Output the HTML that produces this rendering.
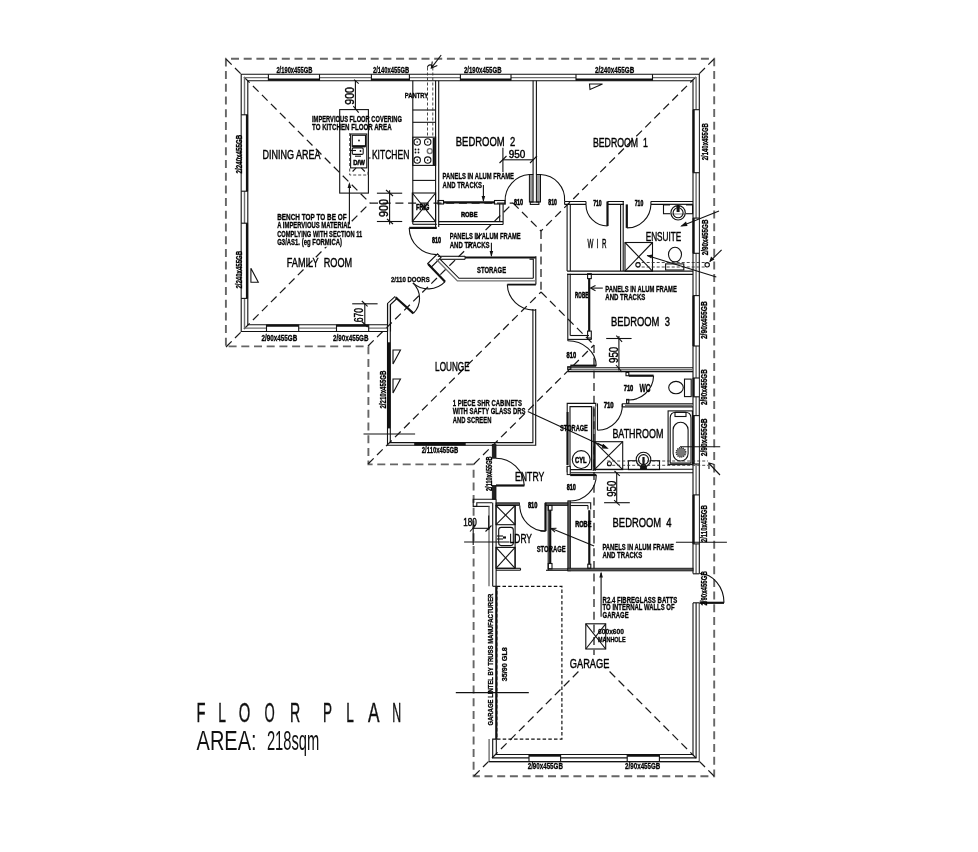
<!DOCTYPE html>
<html><head><meta charset="utf-8"><title>Floor Plan</title><style>
html,body{margin:0;padding:0;background:#fff;width:978px;height:852px;overflow:hidden}
svg{display:block;will-change:transform}
.w{stroke:#111;stroke-width:1.1;fill:none}
.wf{stroke:#111;stroke-width:1.1;fill:#fff}
.g{stroke:#707070;stroke-width:1.4;fill:none}
.t{stroke:#111;stroke-width:2.2;fill:none}
.t2{stroke:#111;stroke-width:1.8;fill:none}
.tt{stroke:#111;stroke-width:3;fill:none}
.e{stroke:#666;stroke-width:1.9;fill:none;stroke-dasharray:8 4.7}
.h{stroke:#1a1a1a;stroke-width:1.25;fill:none;stroke-dasharray:8 4.7}
.dd{stroke:#333;stroke-width:0.9;fill:none;stroke-dasharray:3 2}
.lab{font-family:"Liberation Sans",sans-serif;fill:#000;stroke:#000;stroke-width:0.4}
.big{font-family:"Liberation Sans",sans-serif;fill:#111}
.big2{font-family:"Liberation Sans",sans-serif;fill:#111;stroke:#111;stroke-width:0.45}
.nb2{font-family:"Liberation Sans",sans-serif;fill:#000;font-weight:bold;stroke:#000;stroke-width:0.55}
.nb{font-family:"Liberation Sans",sans-serif;fill:#000;font-weight:bold;stroke:#000;stroke-width:0.3}
.fill{fill:#111;stroke:none}
.shw{fill:#777;stroke:#222;stroke-width:1.2;stroke-dasharray:1 1}
.dd2{stroke:#111;stroke-width:1.2;fill:none;stroke-dasharray:3.5 2.2}
.w2{stroke:#333;stroke-width:1;fill:none;stroke-dasharray:8 4.6}
</style></head>
<body><svg width="978" height="852" viewBox="0 0 978 852">
<polyline points="225.9,345.8 225.9,58.8 714.2,58.8 714.2,776.3 473.6,776.3 473.6,464.4 368.4,464.4 368.4,346.4 225.9,346.4" class="e"/>
<line x1="226" y1="59" x2="370" y2="203" class="h"/>
<line x1="226" y1="347" x2="370" y2="203" class="h"/>
<line x1="370" y1="203" x2="513" y2="203" class="h"/>
<line x1="368" y1="346" x2="513" y2="203" class="h"/>
<line x1="513" y1="203" x2="541" y2="231" class="h"/>
<line x1="714" y1="59" x2="541" y2="231" class="h"/>
<line x1="541" y1="231" x2="541" y2="292" class="h"/>
<line x1="368" y1="464" x2="541" y2="292" class="h"/>
<line x1="541" y1="292" x2="594" y2="345" class="h"/>
<line x1="474" y1="464" x2="594" y2="345" class="h"/>
<line x1="594" y1="345" x2="594" y2="656" class="h"/>
<line x1="474" y1="776" x2="594" y2="656" class="h"/>
<line x1="714" y1="776" x2="594" y2="656" class="h"/>
<polyline points="388,331.5 241.2,331.5 241.2,74.3 699.3,74.3 699.3,573.8" class="w"/>
<polyline points="388,328.1 244.5,328.1 244.5,77.6 696.1,77.6 696.1,573.8" class="g"/>
<polyline points="388,324.7 247.8,324.7 247.8,80.7 693,80.7 693,573.8" class="w"/>
<polyline points="699.3,602.8 699.3,761.6 489.1,761.6 489.1,739.1" class="g"/>
<line x1="699.3" y1="761.6" x2="489.1" y2="761.6" class="w"/>
<polyline points="696.1,602.8 696.1,757.9 492.7,757.9 492.7,739.1 496.3,739.1" class="w"/>
<polyline points="693,602.8 693,754.5 496.3,754.5 496.3,739.1" class="w"/>
<rect x="268.4" y="75.0" width="51.10000000000002" height="5.000000000000005" fill="#fff"/>
<line x1="268.4" y1="79.6" x2="319.5" y2="79.6" class="t"/>
<line x1="268.4" y1="74.3" x2="268.4" y2="80.7" class="w"/>
<line x1="319.5" y1="74.3" x2="319.5" y2="80.7" class="w"/>
<rect x="371.4" y="75.0" width="38.0" height="5.000000000000005" fill="#fff"/>
<line x1="371.4" y1="79.6" x2="409.4" y2="79.6" class="t"/>
<line x1="371.4" y1="74.3" x2="371.4" y2="80.7" class="w"/>
<line x1="409.4" y1="74.3" x2="409.4" y2="80.7" class="w"/>
<rect x="460.4" y="75.0" width="50.60000000000002" height="5.000000000000005" fill="#fff"/>
<line x1="460.4" y1="79.6" x2="511" y2="79.6" class="t"/>
<line x1="460.4" y1="74.3" x2="460.4" y2="80.7" class="w"/>
<line x1="511" y1="74.3" x2="511" y2="80.7" class="w"/>
<rect x="576" y="75.0" width="76.5" height="5.000000000000005" fill="#fff"/>
<line x1="576" y1="79.6" x2="652.5" y2="79.6" class="t"/>
<line x1="576" y1="74.3" x2="576" y2="80.7" class="w"/>
<line x1="652.5" y1="74.3" x2="652.5" y2="80.7" class="w"/>
<rect x="266.5" y="325.4" width="32.19999999999999" height="5.400000000000011" fill="#fff"/>
<line x1="266.5" y1="325.6" x2="298.7" y2="325.6" class="t"/>
<line x1="266.5" y1="331.5" x2="266.5" y2="324.7" class="w"/>
<line x1="298.7" y1="331.5" x2="298.7" y2="324.7" class="w"/>
<rect x="336.5" y="325.4" width="32.19999999999999" height="5.400000000000011" fill="#fff"/>
<line x1="336.5" y1="325.6" x2="368.7" y2="325.6" class="t"/>
<line x1="336.5" y1="331.5" x2="336.5" y2="324.7" class="w"/>
<line x1="368.7" y1="331.5" x2="368.7" y2="324.7" class="w"/>
<rect x="241.89999999999998" y="114.8" width="5.200000000000022" height="76.39999999999999" fill="#fff"/>
<line x1="247.0" y1="114.8" x2="247.0" y2="191.2" class="t"/>
<line x1="241.2" y1="114.8" x2="247.8" y2="114.8" class="w"/>
<line x1="241.2" y1="191.2" x2="247.8" y2="191.2" class="w"/>
<rect x="241.89999999999998" y="223.2" width="5.200000000000022" height="75.19999999999999" fill="#fff"/>
<line x1="247.0" y1="223.2" x2="247.0" y2="298.4" class="t"/>
<line x1="241.2" y1="223.2" x2="247.8" y2="223.2" class="w"/>
<line x1="241.2" y1="298.4" x2="247.8" y2="298.4" class="w"/>
<rect x="693.7" y="109.7" width="4.899999999999954" height="62.999999999999986" fill="#fff"/>
<line x1="693.6" y1="109.7" x2="693.6" y2="172.7" class="t"/>
<line x1="699.3" y1="109.7" x2="693" y2="109.7" class="w"/>
<line x1="699.3" y1="172.7" x2="693" y2="172.7" class="w"/>
<rect x="693.7" y="218.1" width="4.899999999999954" height="35.20000000000002" fill="#fff"/>
<line x1="693.6" y1="218.1" x2="693.6" y2="253.3" class="t"/>
<line x1="699.3" y1="218.1" x2="693" y2="218.1" class="w"/>
<line x1="699.3" y1="253.3" x2="693" y2="253.3" class="w"/>
<rect x="693.7" y="295.6" width="4.899999999999954" height="50.39999999999998" fill="#fff"/>
<line x1="693.6" y1="295.6" x2="693.6" y2="346" class="t"/>
<line x1="699.3" y1="295.6" x2="693" y2="295.6" class="w"/>
<line x1="699.3" y1="346" x2="693" y2="346" class="w"/>
<rect x="693.7" y="378" width="4.899999999999954" height="18.80000000000001" fill="#fff"/>
<line x1="693.6" y1="378" x2="693.6" y2="396.8" class="t"/>
<line x1="699.3" y1="378" x2="693" y2="378" class="w"/>
<line x1="699.3" y1="396.8" x2="693" y2="396.8" class="w"/>
<rect x="693.7" y="415.6" width="4.899999999999954" height="48.39999999999998" fill="#fff"/>
<line x1="693.6" y1="415.6" x2="693.6" y2="464" class="t"/>
<line x1="699.3" y1="415.6" x2="693" y2="415.6" class="w"/>
<line x1="699.3" y1="464" x2="693" y2="464" class="w"/>
<rect x="693.7" y="494.9" width="4.899999999999954" height="49.0" fill="#fff"/>
<line x1="693.6" y1="494.9" x2="693.6" y2="543.9" class="t"/>
<line x1="699.3" y1="494.9" x2="693" y2="494.9" class="w"/>
<line x1="699.3" y1="543.9" x2="693" y2="543.9" class="w"/>
<rect x="529" y="755.5" width="31.600000000000023" height="4.800000000000045" fill="#fff"/>
<line x1="529" y1="755.6" x2="560.6" y2="755.6" class="t"/>
<line x1="529" y1="761" x2="529" y2="754.8" class="w"/>
<line x1="560.6" y1="761" x2="560.6" y2="754.8" class="w"/>
<rect x="627.2" y="755.5" width="32.19999999999993" height="4.800000000000045" fill="#fff"/>
<line x1="627.2" y1="755.6" x2="659.4" y2="755.6" class="t"/>
<line x1="627.2" y1="761" x2="627.2" y2="754.8" class="w"/>
<line x1="659.4" y1="761" x2="659.4" y2="754.8" class="w"/>
<line x1="412.8" y1="80.7" x2="412.8" y2="224.3" class="w"/>
<line x1="412.8" y1="224.3" x2="436.8" y2="224.3" class="w"/>
<line x1="412.8" y1="110" x2="435.6" y2="110" class="w"/>
<line x1="412.8" y1="122.3" x2="435.6" y2="122.3" class="w"/>
<line x1="412.8" y1="180.4" x2="435.6" y2="180.4" class="w"/>
<rect x="412.8" y="137.2" width="22.80000000000001" height="28.200000000000017" class="w"/>
<circle cx="417.2" cy="142" r="3.2" class="w"/>
<circle cx="417.2" cy="142" r="0.8" class="fill"/>
<circle cx="427.7" cy="142" r="3.2" class="w"/>
<circle cx="427.7" cy="142" r="0.8" class="fill"/>
<circle cx="417.2" cy="160.1" r="3.2" class="w"/>
<circle cx="417.2" cy="160.1" r="0.8" class="fill"/>
<circle cx="427.7" cy="160.1" r="3.2" class="w"/>
<circle cx="427.7" cy="160.1" r="0.8" class="fill"/>
<circle cx="415.5" cy="149.5" r="0.9" class="fill"/>
<circle cx="418.5" cy="149.5" r="0.9" class="fill"/>
<circle cx="415.5" cy="152.5" r="0.9" class="fill"/>
<circle cx="418.5" cy="152.5" r="0.9" class="fill"/>
<line x1="433.8" y1="138" x2="433.8" y2="165" class="t"/>
<rect x="412.3" y="193" width="23.30000000000001" height="28.599999999999994" class="w"/>
<line x1="412.3" y1="193" x2="435.6" y2="221.6" class="w"/>
<line x1="412.3" y1="221.6" x2="435.6" y2="193" class="w"/>
<text x="416" y="210.3" font-size="8.5" class="nb2" textLength="13.4" lengthAdjust="spacingAndGlyphs" text-anchor="start" >FRIG</text>
<line x1="427.5" y1="67.5" x2="427.5" y2="137.4" class="dd"/>
<line x1="432.8" y1="67.5" x2="432.8" y2="137.4" class="dd"/>
<path d="M427.5,67.5 A2.65,2.65 0 0 1 432.8,67.5" class="w"/>
<line x1="441.2" y1="55" x2="431.6" y2="67.6" class="w"/>
<polyline points="432.3,61.5 431.3,68 437.3,65.5" class="w"/>
<circle cx="429.8" cy="151.1" r="2.5" class="g"/>
<text x="404.8" y="98" font-size="7.2" class="nb" textLength="23.4" lengthAdjust="spacingAndGlyphs" text-anchor="start" >PANTRY</text>
<line x1="435.6" y1="80.7" x2="435.6" y2="227" class="w"/>
<line x1="438.7" y1="80.7" x2="438.7" y2="227" class="w"/>
<line x1="409.2" y1="227.9" x2="436.8" y2="227.9" class="t"/>
<path d="M409.2,227.9 A27.3,27.3 0 0 0 436.8,254.6" class="w"/>
<text x="432.1" y="243.3" font-size="9" class="nb2" textLength="9" lengthAdjust="spacingAndGlyphs" text-anchor="start" >810</text>
<rect x="339.7" y="109.6" width="28.69999999999999" height="83.5" class="w"/>
<rect x="350.6" y="134" width="16.19999999999999" height="33.900000000000006" class="w"/>
<line x1="349.7" y1="133" x2="349.7" y2="168" class="dd"/>
<rect x="352.3" y="135.3" width="13.199999999999989" height="11.0" class="w"/>
<line x1="352.3" y1="146.3" x2="365.5" y2="146.3" class="t"/>
<circle cx="359" cy="140.5" r="0.9" class="fill"/>
<rect x="352.3" y="147.9" width="10.9" height="6.5" rx="1.2" class="w"/>
<line x1="350" y1="150.5" x2="356" y2="150.5" class="w"/>
<circle cx="360.5" cy="151" r="0.9" class="fill"/>
<line x1="355" y1="156.2" x2="361" y2="156.2" class="w"/>
<text x="353.2" y="165.3" font-size="8" class="nb2" textLength="11.6" lengthAdjust="spacingAndGlyphs" text-anchor="start" >D/W</text>
<line x1="352.6" y1="171.5" x2="356.1" y2="167.9" class="w"/>
<line x1="361.3" y1="167.9" x2="364.8" y2="171.5" class="w"/>
<polyline points="349.7,168.5 349.7,175 368,175 368,170" class="dd"/>
<line x1="368.4" y1="158" x2="370.5" y2="158" class="w"/>
<line x1="355.4" y1="80.7" x2="355.4" y2="109.6" class="w"/>
<line x1="354.1" y1="79.7" x2="358.7" y2="83.7" class="w"/>
<line x1="353.3" y1="106.2" x2="358.7" y2="112.7" class="w"/>
<text x="354.1" y="104.7" font-size="12" class="lab" textLength="17.6" lengthAdjust="spacingAndGlyphs" transform="rotate(-90 354.1 104.7)" text-anchor="start" >900</text>
<line x1="376.9" y1="193.2" x2="402.2" y2="193.2" class="w"/>
<line x1="376.9" y1="221.5" x2="402.2" y2="221.5" class="w"/>
<line x1="389.6" y1="190.3" x2="389.6" y2="224.4" class="w"/>
<line x1="386" y1="190" x2="393" y2="196" class="w"/>
<line x1="387" y1="219" x2="393" y2="224" class="w"/>
<text x="387.7" y="217" font-size="12" class="lab" textLength="18" lengthAdjust="spacingAndGlyphs" transform="rotate(-90 387.7 217)" text-anchor="start" >900</text>
<rect x="276.5" y="213.3" width="70.5" height="8.4" fill="#fff"/>
<rect x="276.5" y="221.7" width="75" height="8.4" fill="#fff"/>
<rect x="276.5" y="230" width="86" height="8.4" fill="#fff"/>
<rect x="276.5" y="238.4" width="66" height="8.4" fill="#fff"/>
<line x1="349.4" y1="184" x2="349.4" y2="224.4" class="w"/>
<polygon points="349.4,182 347.6,188 351.2,188" class="fill"/>
<text x="312" y="122.3" font-size="8.8" class="nb" textLength="90" lengthAdjust="spacingAndGlyphs" text-anchor="start" >IMPERVIOUS FLOOR COVERING</text>
<text x="312" y="130.1" font-size="8.8" class="nb" textLength="79.6" lengthAdjust="spacingAndGlyphs" text-anchor="start" >TO KITCHEN FLOOR AREA</text>
<text x="277.2" y="220" font-size="8.8" class="nb" textLength="69.4" lengthAdjust="spacingAndGlyphs" text-anchor="start" >BENCH TOP TO BE OF</text>
<text x="277.2" y="228.3" font-size="8.8" class="nb" textLength="74" lengthAdjust="spacingAndGlyphs" text-anchor="start" >A IMPERVIOUS MATERIAL</text>
<text x="277.2" y="236.6" font-size="8.8" class="nb" textLength="85" lengthAdjust="spacingAndGlyphs" text-anchor="start" >COMPLYING WITH SECTION 11</text>
<text x="277.2" y="244.9" font-size="8.8" class="nb" textLength="64.8" lengthAdjust="spacingAndGlyphs" text-anchor="start" >G3/AS1. (eg FORMICA)</text>
<rect x="438" y="200.5" width="5.5" height="3.5" class="w"/>
<rect x="494.5" y="200.5" width="10.5" height="3.5" class="w"/>
<line x1="443.5" y1="202.3" x2="494.5" y2="202.3" class="t"/>
<line x1="438.7" y1="221.6" x2="503.1" y2="221.6" class="w"/>
<line x1="438.7" y1="224.5" x2="503.1" y2="224.5" class="w"/>
<line x1="499.7" y1="204" x2="499.7" y2="221.6" class="w"/>
<line x1="503.1" y1="204" x2="503.1" y2="224.5" class="w"/>
<text x="461" y="217.1" font-size="7.8" class="nb2" textLength="16.5" lengthAdjust="spacingAndGlyphs" text-anchor="start" >ROBE</text>
<line x1="483.4" y1="185" x2="483.4" y2="201" class="w"/>
<polygon points="483.4,202 481.6,196 485.2,196" class="fill"/>
<text x="442.6" y="179.4" font-size="8.8" class="nb" textLength="71.4" lengthAdjust="spacingAndGlyphs" text-anchor="start" >PANELS IN ALUM FRAME</text>
<text x="442.6" y="187.7" font-size="8.8" class="nb" textLength="39.4" lengthAdjust="spacingAndGlyphs" text-anchor="start" >AND TRACKS</text>
<line x1="505.1" y1="201.5" x2="505.1" y2="204.4" class="w"/>
<line x1="502.9" y1="147.7" x2="502.9" y2="172.1" class="w"/>
<line x1="502.9" y1="159.8" x2="533.1" y2="159.8" class="w"/>
<line x1="499.5" y1="163" x2="506.5" y2="156" class="w"/>
<line x1="530" y1="163" x2="537" y2="156" class="w"/>
<text x="508.8" y="158.3" font-size="10" class="lab" textLength="16.6" lengthAdjust="spacingAndGlyphs" text-anchor="start" >950</text>
<line x1="533.1" y1="80.7" x2="533.1" y2="174.5" class="w"/>
<line x1="536.4" y1="80.7" x2="536.4" y2="174.5" class="w"/>
<rect x="529.4" y="174.5" width="3.7" height="27.5" fill="#999" stroke="#111" stroke-width="1"/>
<rect x="536.4" y="174.5" width="4.1" height="27.5" fill="#999" stroke="#111" stroke-width="1"/>
<rect x="530.3" y="202" width="8.600000000000023" height="2.4000000000000057" class="w"/>
<path d="M529.4,174.5 A26,26 0 0 0 505.1,201.5" class="w"/>
<path d="M540.5,174.5 A25,25 0 0 1 564.6,201.5" class="w"/>
<text x="513.9" y="204.5" font-size="9" class="nb2" textLength="9" lengthAdjust="spacingAndGlyphs" text-anchor="start" >810</text>
<text x="548.3" y="204.5" font-size="9" class="nb2" textLength="8.5" lengthAdjust="spacingAndGlyphs" text-anchor="start" >810</text>
<line x1="564.6" y1="201.5" x2="693" y2="201.5" class="w"/>
<line x1="564.6" y1="204.4" x2="693" y2="204.4" class="w"/>
<line x1="564.6" y1="201.5" x2="564.6" y2="204.4" class="w"/>
<polygon points="589.5,84 602.5,84 590,89.5" class="w"/>
<line x1="567.1" y1="204.4" x2="567.1" y2="271.1" class="w"/>
<line x1="570.3" y1="204.4" x2="570.3" y2="271.1" class="w"/>
<line x1="620.6" y1="204.4" x2="620.6" y2="271.1" class="w"/>
<line x1="623.2" y1="204.4" x2="623.2" y2="271.1" class="w"/>
<rect x="586" y="200.5" width="21.5" height="5" fill="#fff"/>
<rect x="624" y="200.5" width="26.9" height="5" fill="#fff"/>
<line x1="586" y1="201.5" x2="586" y2="204.4" class="w"/>
<line x1="650.9" y1="201.5" x2="650.9" y2="204.4" class="w"/>
<line x1="623.2" y1="201.5" x2="623.2" y2="204.4" class="w"/>
<line x1="607.5" y1="201.5" x2="607.5" y2="226" class="t"/>
<path d="M586,204.4 A21.5,21.5 0 0 0 607.5,226" class="w"/>
<line x1="626.8" y1="204.4" x2="626.8" y2="227.9" class="t"/>
<path d="M626.8,227.9 A24,24 0 0 0 650.9,204.4" class="w"/>
<text x="597.4" y="205.5" font-size="9" class="nb2" textLength="8.5" lengthAdjust="spacingAndGlyphs" text-anchor="middle" >710</text>
<text x="639" y="205.5" font-size="9" class="nb2" textLength="8.5" lengthAdjust="spacingAndGlyphs" text-anchor="middle" >710</text>
<text x="587.5" y="248.3" font-size="12" class="lab" textLength="19" lengthAdjust="spacingAndGlyphs" text-anchor="start" >W&#160;&#160;I&#160;&#160;R</text>
<rect x="663.5" y="204.9" width="29.100000000000023" height="8.799999999999983" class="w"/>
<rect x="670" y="204.9" width="16" height="8.8" fill="#fff"/>
<circle cx="678.1" cy="212.8" r="7.2" class="w"/>
<circle cx="678.1" cy="212.8" r="5" class="w"/>
<line x1="678.1" y1="206" x2="678.1" y2="212" class="tt"/>
<circle cx="678.1" cy="206.5" r="1.6" class="fill"/>
<rect x="625" y="242.5" width="27.5" height="28.600000000000023" class="w"/>
<line x1="625" y1="242.5" x2="652.5" y2="271.1" class="w"/>
<line x1="625" y1="271.1" x2="652.5" y2="242.5" class="w"/>
<ellipse cx="675" cy="254.6" rx="6.5" ry="7.3" class="w"/>
<rect x="665.6" y="263.9" width="18.199999999999932" height="6.100000000000023" class="w"/>
<line x1="636.7" y1="262.5" x2="707" y2="262.5" class="dd"/>
<line x1="636.7" y1="267" x2="707" y2="267" class="dd"/>
<circle cx="707.2" cy="264.8" r="2.2" class="w"/>
<circle cx="638" cy="264.8" r="2.2" class="w"/>
<line x1="719" y1="211" x2="681.5" y2="226" class="w"/>
<polygon points="680.2,226.5 686,221.5 687.5,226" class="fill"/>
<line x1="721.6" y1="249.8" x2="709.8" y2="261.6" class="w"/>
<polygon points="709.3,262.1 711,256.5 714.5,259.5" class="fill"/>
<line x1="716.3" y1="277.1" x2="647" y2="255.4" class="w"/>
<polygon points="646.9,255.4 652.5,254.5 651.3,258.5" class="fill"/>
<line x1="567.1" y1="271.1" x2="693" y2="271.1" class="w"/>
<line x1="567.1" y1="274.4" x2="693" y2="274.4" class="w"/>
<line x1="567.8" y1="273.7" x2="567.8" y2="340.8" class="w"/>
<line x1="570.2" y1="273.7" x2="570.2" y2="335.5" class="w"/>
<line x1="570.2" y1="335.5" x2="589" y2="335.5" class="w"/>
<line x1="567.8" y1="339.4" x2="591.5" y2="339.4" class="w"/>
<line x1="589.2" y1="278.6" x2="589.2" y2="331.1" class="t"/>
<rect x="587.6" y="273.7" width="3.699999999999932" height="4.900000000000034" class="w"/>
<rect x="587.6" y="331.1" width="3.699999999999932" height="6.899999999999977" class="w"/>
<line x1="591.3" y1="338" x2="591.3" y2="339.4" class="w"/>
<text x="575.1" y="298.2" font-size="8.2" class="nb2" textLength="13.1" lengthAdjust="spacingAndGlyphs" text-anchor="start" >ROBE</text>
<text x="605.3" y="291.5" font-size="8.8" class="nb" textLength="71.5" lengthAdjust="spacingAndGlyphs" text-anchor="start" >PANELS IN ALUM FRAME</text>
<text x="605.3" y="300.3" font-size="8.8" class="nb" textLength="40" lengthAdjust="spacingAndGlyphs" text-anchor="start" >AND TRACKS</text>
<line x1="602.8" y1="288.1" x2="591" y2="288.1" class="w"/>
<polyline points="595.5,285.5 590.5,288.1 595.5,290.7" class="w"/>
<line x1="567.7" y1="367.8" x2="693" y2="367.8" class="w"/>
<line x1="570.3" y1="369.7" x2="693" y2="369.7" class="g"/>
<line x1="567.7" y1="371.6" x2="693" y2="371.6" class="w"/>
<rect x="567.7" y="366.7" width="3.099999999999909" height="2.6999999999999886" class="w"/>
<line x1="570.3" y1="365.7" x2="596.2" y2="365.7" class="t"/>
<path d="M567.7,340.8 A28.5,25 0 0 1 596.2,365.7" class="w"/>
<text x="566.6" y="357.7" font-size="9" class="nb2" textLength="9.5" lengthAdjust="spacingAndGlyphs" text-anchor="start" >810</text>
<line x1="618.9" y1="336.1" x2="618.9" y2="370.4" class="w"/>
<line x1="606.2" y1="338.5" x2="631.6" y2="338.5" class="w"/>
<line x1="616.3" y1="335.6" x2="622.1" y2="341.9" class="w"/>
<line x1="616" y1="365" x2="622" y2="372" class="w"/>
<text x="618.4" y="363" font-size="12" class="lab" textLength="16.3" lengthAdjust="spacingAndGlyphs" transform="rotate(-90 618.4 363)" text-anchor="start" >950</text>
<polygon points="437.5,253.8 427.7,263.6 431.2,267.2 441,257.4" class="w"/>
<line x1="437.8" y1="256.3" x2="465.1" y2="256.3" class="w"/>
<line x1="440.2" y1="259.3" x2="465.1" y2="259.3" class="w"/>
<line x1="465.1" y1="256.3" x2="465.1" y2="259.3" class="w"/>
<line x1="465.1" y1="257.5" x2="535.9" y2="257.5" class="t2"/>
<line x1="535.9" y1="256.3" x2="535.9" y2="284.6" class="w"/>
<polyline points="529.5,259.1 533.3,259.1 533.3,278.3" class="w"/>
<polyline points="440.2,259.3 459,278.3 533.3,278.3" class="w"/>
<polyline points="436.3,259.3 457.4,280.9 535.9,280.9" class="g"/>
<line x1="507.3" y1="284.6" x2="535.9" y2="284.6" class="t2"/>
<text x="477" y="272.6" font-size="8.4" class="nb" textLength="29.1" lengthAdjust="spacingAndGlyphs" text-anchor="start" >STORAGE</text>
<text x="449.7" y="239.1" font-size="8.8" class="nb" textLength="71" lengthAdjust="spacingAndGlyphs" text-anchor="start" >PANELS IN ALUM FRAME</text>
<text x="449.7" y="247.7" font-size="8.8" class="nb" textLength="39.8" lengthAdjust="spacingAndGlyphs" text-anchor="start" >AND TRACKS</text>
<line x1="491.4" y1="242.7" x2="491.4" y2="256" class="w"/>
<polygon points="491.4,257 489.6,251 493.2,251" class="fill"/>
<line x1="428.1" y1="264.1" x2="445.1" y2="281.7" class="t"/>
<line x1="395.5" y1="297.2" x2="413.4" y2="313.4" class="t"/>
<path d="M412.9,282.8 A21.5,21.5 0 0 1 413.4,313.4" class="w"/>
<path d="M412.9,282.8 A23,23 0 0 0 445.1,281.7" class="w"/>
<text x="391" y="281.5" font-size="7.5" class="nb" textLength="38.7" lengthAdjust="spacingAndGlyphs" text-anchor="start" >2/110 DOORS</text>
<polyline points="387.6,331.5 387.6,303.4 395.2,296.4" class="w"/>
<polyline points="390.5,331.5 390.5,304.6 397.5,298" class="w"/>
<polyline points="387.5,303.4 387.5,445.3 535.7,445.3 535.7,309" class="w"/>
<polyline points="390.3,304.6 390.3,442.6 532.9,442.6 532.9,309" class="w"/>
<line x1="533.7" y1="310.1" x2="535.9" y2="310.1" class="w"/>
<line x1="388.9" y1="342.3" x2="388.9" y2="428.4" class="tt"/>
<line x1="414.2" y1="444" x2="465.7" y2="444" class="tt"/>
<path d="M507.3,284.6 A26.4,26.4 0 0 0 533.7,310.1" class="w"/>
<polygon points="393,350 400.5,350 393,364" class="w"/>
<polygon points="393,379 400.5,379 393,393" class="w"/>
<text x="452.7" y="405.8" font-size="8.8" class="nb" textLength="69.3" lengthAdjust="spacingAndGlyphs" text-anchor="start" >1 PIECE SHR CABINETS</text>
<text x="452.7" y="414" font-size="8.8" class="nb" textLength="72.8" lengthAdjust="spacingAndGlyphs" text-anchor="start" >WITH SAFTY GLASS DRS</text>
<text x="452.7" y="422.9" font-size="8.8" class="nb" textLength="38.7" lengthAdjust="spacingAndGlyphs" text-anchor="start" >AND SCREEN</text>
<polygon points="607.5,448.2 601.5,447.5 603,444" class="fill"/>
<line x1="363.5" y1="434" x2="415.1" y2="434" class="w"/>
<rect x="626" y="372.4" width="2.7999999999999545" height="3.3000000000000114" class="w"/>
<line x1="628.8" y1="375.7" x2="653.6" y2="375.7" class="t"/>
<path d="M653.6,375.7 A25,25 0 0 1 627.1,400" class="w"/>
<rect x="626.6" y="399.4" width="2.199999999999932" height="3.900000000000034" class="w"/>
<text x="623.7" y="391" font-size="9" class="nb2" textLength="9.6" lengthAdjust="spacingAndGlyphs" text-anchor="start" >710</text>
<text x="639.5" y="392.2" font-size="11" class="nb" textLength="11.2" lengthAdjust="spacingAndGlyphs" text-anchor="start" >WC</text>
<ellipse cx="676" cy="387.6" rx="7.3" ry="6.2" class="w"/>
<rect x="684.5" y="379.1" width="6.7000000000000455" height="17.5" class="w"/>
<line x1="622.3" y1="403.7" x2="693" y2="403.7" class="w"/>
<line x1="622.3" y1="406.9" x2="693" y2="406.9" class="w"/>
<line x1="625" y1="405.3" x2="693" y2="405.3" class="g"/>
<line x1="622.3" y1="403.7" x2="622.3" y2="406.9" class="w"/>
<line x1="593.2" y1="406.6" x2="593.2" y2="471" class="w"/>
<line x1="595.1" y1="406.6" x2="595.1" y2="471" class="w"/>
<line x1="597.5" y1="403.4" x2="597.5" y2="430.2" class="w"/>
<path d="M597.5,430.2 A25,25 0 0 0 622.3,403.7" class="w"/>
<text x="603.7" y="408.3" font-size="9" class="nb2" textLength="10" lengthAdjust="spacingAndGlyphs" text-anchor="start" >710</text>
<rect x="668.1" y="410.9" width="24.299999999999955" height="53.700000000000045" class="w"/>
<path d="M670.2,463.1 L670.2,418 Q670.2,412.3 676,412.3 L685,412.3 Q691,412.3 691,418 L691,463.1 Z" class="w"/>
<rect x="675" y="412.3" width="11" height="4.199999999999989" class="w"/>
<rect x="673.1" y="422.3" width="15" height="38.7" rx="7.5" class="w"/>
<circle cx="681" cy="452.4" r="4.8" class="shw"/>
<line x1="680" y1="446.7" x2="720.2" y2="446.7" class="w"/>
<rect x="594.4" y="441.7" width="28.300000000000068" height="27.900000000000034" class="w"/>
<line x1="594.4" y1="441.7" x2="622.7" y2="469.6" class="w"/>
<line x1="594.4" y1="469.6" x2="622.7" y2="441.7" class="w"/>
<polyline points="598,443.5 605,447 603,444.5 607.2,448.1 602,448" class="w"/>
<line x1="527.8" y1="411.5" x2="606.5" y2="447.8" class="w"/>
<rect x="628.4" y="460.7" width="31.100000000000023" height="8.900000000000034" class="w"/>
<circle cx="643.5" cy="459.6" r="7.3" fill="#fff" stroke="#111" stroke-width="1.1"/>
<circle cx="643.5" cy="459.6" r="5" class="w"/>
<path d="M640,469 Q640,464 643.5,464 Q647,464 647,469 Z" class="fill"/>
<line x1="643.5" y1="457" x2="643.5" y2="465" class="t"/>
<line x1="607.2" y1="461" x2="708" y2="461" class="dd"/>
<line x1="607.2" y1="465.3" x2="708" y2="465.3" class="dd"/>
<circle cx="609.4" cy="463.8" r="2" class="w"/>
<line x1="593.3" y1="469.3" x2="693" y2="469.3" class="w"/>
<line x1="570.2" y1="472.8" x2="693" y2="472.8" class="w"/>
<line x1="720" y1="475" x2="709" y2="463.5" class="w"/>
<polyline points="709,469 708.9,463 714.5,464.5" class="w"/>
<polyline points="567.2,412 567.2,403.4 595.8,403.4 595.8,406.6" class="w"/>
<polyline points="570,469.6 570,406.6 591.5,406.6 591.5,469.6 570,469.6" class="w"/>
<line x1="567.5" y1="412" x2="567.5" y2="465" class="t"/>
<rect x="567.2" y="466.7" width="2.7999999999999545" height="5.0" class="w"/>
<text x="560" y="430.8" font-size="8.2" class="nb" textLength="27.9" lengthAdjust="spacingAndGlyphs" text-anchor="start" >STORAGE</text>
<circle cx="581.2" cy="459.6" r="8.95" class="w"/>
<text x="575" y="463" font-size="8.2" class="nb2" textLength="11.5" lengthAdjust="spacingAndGlyphs" text-anchor="start" >CYL</text>
<rect x="567.2" y="466.3" width="3" height="8.3" fill="#fff" stroke="#111" stroke-width="1"/>
<line x1="570.2" y1="475" x2="596.3" y2="475" class="t"/>
<path d="M596.3,475 A26,26 0 0 1 570.2,501" class="w"/>
<text x="566.7" y="489.8" font-size="9" class="nb2" textLength="9.2" lengthAdjust="spacingAndGlyphs" text-anchor="start" >810</text>
<line x1="604.1" y1="502.7" x2="629.8" y2="502.7" class="w"/>
<line x1="616.7" y1="472.8" x2="616.7" y2="502.7" class="w"/>
<line x1="614.5" y1="471" x2="619.8" y2="475.9" class="w"/>
<line x1="614.1" y1="500.2" x2="619.8" y2="505.4" class="w"/>
<text x="615.9" y="496.7" font-size="12" class="lab" textLength="16" lengthAdjust="spacingAndGlyphs" transform="rotate(-90 615.9 496.7)" text-anchor="start" >950</text>
<rect x="567.8" y="500.8" width="2.7" height="70" fill="#555" stroke="#111" stroke-width="0.8"/>
<rect x="567.8" y="568.2" width="125.2" height="2.7" fill="#555" stroke="#111" stroke-width="0.8"/>
<rect x="545.5" y="502.8" width="22.3" height="2.7" fill="#555" stroke="#111" stroke-width="0.8"/>
<rect x="496" y="502.8" width="23.6" height="2.7" fill="#555" stroke="#111" stroke-width="0.8"/>
<polyline points="570.5,502.8 590.7,502.8 590.7,509.5" class="w"/>
<line x1="570.5" y1="505.5" x2="588" y2="505.5" class="w"/>
<line x1="588" y1="505.5" x2="588" y2="509.5" class="w"/>
<line x1="589.3" y1="510.2" x2="589.3" y2="564.2" class="t"/>
<rect x="587.8" y="564.2" width="3.0" height="4.0" class="w"/>
<text x="575.2" y="527" font-size="8.2" class="nb2" textLength="16.2" lengthAdjust="spacingAndGlyphs" text-anchor="start" >ROBE</text>
<text x="602.4" y="549.5" font-size="8.8" class="nb" textLength="71.4" lengthAdjust="spacingAndGlyphs" text-anchor="start" >PANELS IN ALUM FRAME</text>
<text x="602.4" y="557.7" font-size="8.8" class="nb" textLength="39.8" lengthAdjust="spacingAndGlyphs" text-anchor="start" >AND TRACKS</text>
<line x1="594.1" y1="546" x2="551.5" y2="528.6" class="w"/>
<polyline points="556.5,528.2 550.9,528.4 555,532.2" class="w"/>
<line x1="548.2" y1="505.5" x2="548.2" y2="570.3" class="w"/>
<line x1="550.2" y1="510.2" x2="550.2" y2="563.5" class="t"/>
<rect x="548.2" y="505.5" width="3.7999999999999545" height="4.699999999999989" class="w"/>
<rect x="548.2" y="563.5" width="3.7999999999999545" height="5.399999999999977" class="w"/>
<line x1="548.2" y1="568.9" x2="567.8" y2="568.9" class="w"/>
<line x1="546" y1="570.3" x2="567.8" y2="570.3" class="w"/>
<text x="536.7" y="552" font-size="8.2" class="nb" textLength="29" lengthAdjust="spacingAndGlyphs" text-anchor="start" >STORAGE</text>
<line x1="545.5" y1="502.8" x2="545.5" y2="531.1" class="t"/>
<line x1="540.5" y1="531.1" x2="545.5" y2="531.1" class="w"/>
<path d="M519.8,505.5 A25.7,25.7 0 0 0 545.5,531.1" class="w"/>
<text x="527.9" y="507.8" font-size="9" class="nb2" textLength="9.5" lengthAdjust="spacingAndGlyphs" text-anchor="start" >810</text>
<rect x="492.3" y="444.6" width="3.7" height="13.6" fill="#222" stroke="#111" stroke-width="0.8"/>
<rect x="492.3" y="485.5" width="3.7" height="13.7" fill="#222" stroke="#111" stroke-width="0.8"/>
<line x1="496" y1="485.5" x2="524.4" y2="485.5" class="t"/>
<path d="M496,458.2 A28.2,28.2 0 0 1 524.2,485.5" class="w"/>
<polyline points="496,499.2 473.2,499.2 473.2,506.4 476.8,506.4 476.8,502.8 492.3,502.8" class="w"/>
<line x1="476.8" y1="506.4" x2="489.6" y2="506.4" class="w"/>
<line x1="489" y1="506.4" x2="489" y2="586.3" class="g"/>
<line x1="492.7" y1="502.8" x2="492.7" y2="586.3" class="w"/>
<line x1="492.7" y1="586.3" x2="496.3" y2="586.3" class="w"/>
<line x1="496.1" y1="499.2" x2="496.1" y2="586.3" class="w"/>
<line x1="515.1" y1="505.5" x2="515.1" y2="568.3" class="w"/>
<line x1="496" y1="568.3" x2="520.5" y2="568.3" class="w"/>
<line x1="496" y1="570.2" x2="520.5" y2="570.2" class="w"/>
<line x1="520.5" y1="568.3" x2="520.5" y2="570.2" class="w"/>
<rect x="496" y="505.5" width="19.100000000000023" height="19.200000000000045" class="w"/>
<line x1="496" y1="505.5" x2="515.1" y2="524.7" class="w"/>
<line x1="496" y1="524.7" x2="515.1" y2="505.5" class="w"/>
<rect x="498.7" y="527.4" width="14.6" height="18.2" rx="2.5" class="w"/>
<rect x="496" y="547.4" width="19.100000000000023" height="20.899999999999977" class="w"/>
<line x1="496" y1="547.4" x2="515.1" y2="568.3" class="w"/>
<line x1="496" y1="568.3" x2="515.1" y2="547.4" class="w"/>
<line x1="497" y1="536" x2="503" y2="536" class="w"/>
<line x1="497" y1="539" x2="503" y2="539" class="w"/>
<line x1="503" y1="537.5" x2="506" y2="537.5" class="t"/>
<text x="509.6" y="542.5" font-size="12" class="lab" textLength="22.4" lengthAdjust="spacingAndGlyphs" text-anchor="start" >LDRY</text>
<text x="463.2" y="525.6" font-size="10" class="lab" textLength="13.6" lengthAdjust="spacingAndGlyphs" text-anchor="start" >180</text>
<line x1="472.3" y1="528.3" x2="489.6" y2="528.3" class="w"/>
<line x1="473.2" y1="524.4" x2="473.2" y2="545" class="w"/>
<line x1="488.7" y1="515.5" x2="488.7" y2="530.1" class="w"/>
<line x1="470" y1="531.5" x2="475.5" y2="525.5" class="w"/>
<line x1="485.5" y1="531.5" x2="491.5" y2="525.5" class="w"/>
<line x1="464.1" y1="542" x2="509.6" y2="542" class="w"/>
<line x1="496.3" y1="586.3" x2="496.3" y2="739.1" class="t"/>
<rect x="496.8" y="586.3" width="65.09999999999997" height="152.80000000000007" class="dd2"/>
<rect x="692" y="573.8" width="8" height="29" fill="#fff"/>
<line x1="693" y1="573.8" x2="699.3" y2="573.8" class="w"/>
<line x1="693" y1="602.8" x2="699.3" y2="602.8" class="w"/>
<line x1="699.5" y1="602.8" x2="724" y2="602.8" class="t"/>
<path d="M699.5,573.5 A25,29.3 0 0 1 724,602.8" class="w"/>
<rect x="585.8" y="623.8" width="19.90000000000009" height="25.200000000000045" class="w"/>
<line x1="585.8" y1="623.8" x2="605.7" y2="649" class="w"/>
<line x1="585.8" y1="649" x2="605.7" y2="623.8" class="w"/>
<text x="598" y="634.2" font-size="8" class="nb" textLength="26" lengthAdjust="spacingAndGlyphs" text-anchor="start" >600x600</text>
<text x="598" y="642" font-size="8" class="nb" textLength="27.6" lengthAdjust="spacingAndGlyphs" text-anchor="start" >MANHOLE</text>
<rect x="568" y="655" width="44" height="13" fill="#fff"/>
<text x="602.6" y="603.1" font-size="8.8" class="nb" textLength="74.6" lengthAdjust="spacingAndGlyphs" text-anchor="start" >R2.4 FIBREGLASS BATTS</text>
<text x="602.6" y="610.2" font-size="8.8" class="nb" textLength="72" lengthAdjust="spacingAndGlyphs" text-anchor="start" >TO INTERNAL WALLS OF</text>
<text x="602.6" y="617.8" font-size="8.8" class="nb" textLength="26" lengthAdjust="spacingAndGlyphs" text-anchor="start" >GARAGE</text>
<line x1="601.1" y1="573" x2="601.1" y2="616.7" class="w"/>
<polygon points="601.1,571.5 599.3,577.5 602.9,577.5" class="fill"/>
<text x="493.5" y="725.6" font-size="7.5" class="nb" textLength="132" lengthAdjust="spacingAndGlyphs" transform="rotate(-90 493.5 725.6)" text-anchor="start" >GARAGE LINTEL BY TRUSS MANUFACTURER</text>
<text x="507" y="681.2" font-size="7.5" class="nb" textLength="34" lengthAdjust="spacingAndGlyphs" transform="rotate(-90 507 681.2)" text-anchor="start" >35/90 GL8</text>
<line x1="455.8" y1="692.6" x2="528.8" y2="692.6" class="w"/>
<polygon points="250.9,268.3 250.9,282.2 258.3,282.2" class="w"/>
<line x1="364.8" y1="303.2" x2="364.8" y2="324.7" class="w"/>
<line x1="352.2" y1="303.8" x2="377.6" y2="303.8" class="w"/>
<line x1="361.8" y1="301" x2="367.6" y2="306.4" class="w"/>
<line x1="361.8" y1="321.5" x2="367.6" y2="327" class="w"/>
<text x="362.8" y="322.3" font-size="12" class="lab" textLength="14.3" lengthAdjust="spacingAndGlyphs" transform="rotate(-90 362.8 322.3)" text-anchor="start" >670</text>
<line x1="675.9" y1="542.2" x2="726.9" y2="542.2" class="w"/>
<text x="262.5" y="158.5" font-size="12" class="lab" textLength="58" lengthAdjust="spacingAndGlyphs" text-anchor="start" >DINING AREA</text>
<text x="371.9" y="159.3" font-size="12" class="lab" textLength="37.4" lengthAdjust="spacingAndGlyphs" text-anchor="start" >KITCHEN</text>
<text x="455.8" y="146.2" font-size="12" class="lab" textLength="59.5" lengthAdjust="spacingAndGlyphs" text-anchor="start" >BEDROOM&#160;&#160;2</text>
<text x="592.9" y="147.4" font-size="12" class="lab" textLength="55" lengthAdjust="spacingAndGlyphs" text-anchor="start" >BEDROOM&#160;&#160;1</text>
<text x="286.8" y="266.7" font-size="12" class="lab" textLength="65.3" lengthAdjust="spacingAndGlyphs" text-anchor="start" >FAMILY&#160;&#160;ROOM</text>
<text x="435.1" y="370.8" font-size="12" class="lab" textLength="34.5" lengthAdjust="spacingAndGlyphs" text-anchor="start" >LOUNGE</text>
<text x="645.7" y="241.1" font-size="12" class="lab" textLength="35.6" lengthAdjust="spacingAndGlyphs" text-anchor="start" >ENSUITE</text>
<text x="610.9" y="325.7" font-size="12" class="lab" textLength="59" lengthAdjust="spacingAndGlyphs" text-anchor="start" >BEDROOM&#160;&#160;3</text>
<text x="612.4" y="438" font-size="12" class="lab" textLength="51" lengthAdjust="spacingAndGlyphs" text-anchor="start" >BATHROOM</text>
<text x="612.6" y="527.2" font-size="12" class="lab" textLength="59" lengthAdjust="spacingAndGlyphs" text-anchor="start" >BEDROOM&#160;&#160;4</text>
<text x="515" y="481.2" font-size="12" class="lab" textLength="29.3" lengthAdjust="spacingAndGlyphs" text-anchor="start" >ENTRY</text>
<text x="569.8" y="668.1" font-size="12" class="lab" textLength="39.6" lengthAdjust="spacingAndGlyphs" text-anchor="start" >GARAGE</text>
<text x="196.6" y="721.8" font-size="27.5" class="big2" textLength="9.0" lengthAdjust="spacingAndGlyphs" text-anchor="start" >F</text>
<text x="218.3" y="721.8" font-size="27.5" class="big2" textLength="7.7" lengthAdjust="spacingAndGlyphs" text-anchor="start" >L</text>
<text x="238.8" y="721.8" font-size="27.5" class="big2" textLength="11.5" lengthAdjust="spacingAndGlyphs" text-anchor="start" >O</text>
<text x="264.4" y="721.8" font-size="27.5" class="big2" textLength="10.2" lengthAdjust="spacingAndGlyphs" text-anchor="start" >O</text>
<text x="289.9" y="721.8" font-size="27.5" class="big2" textLength="10.2" lengthAdjust="spacingAndGlyphs" text-anchor="start" >R</text>
<text x="323.1" y="721.8" font-size="27.5" class="big2" textLength="9.0" lengthAdjust="spacingAndGlyphs" text-anchor="start" >P</text>
<text x="346.2" y="721.8" font-size="27.5" class="big2" textLength="7.6" lengthAdjust="spacingAndGlyphs" text-anchor="start" >L</text>
<text x="367.9" y="721.8" font-size="27.5" class="big2" textLength="11.5" lengthAdjust="spacingAndGlyphs" text-anchor="start" >A</text>
<text x="392.2" y="721.8" font-size="27.5" class="big2" textLength="8.9" lengthAdjust="spacingAndGlyphs" text-anchor="start" >N</text>
<text x="196.6" y="749.8" font-size="28.2" class="big" textLength="60" lengthAdjust="spacingAndGlyphs" text-anchor="start" >AREA:</text>
<text x="266.9" y="749.8" font-size="28.2" class="big" textLength="52.4" lengthAdjust="spacingAndGlyphs" text-anchor="start" >218sqm</text>
<text x="276.4" y="73.1" font-size="8.2" class="nb" textLength="36" lengthAdjust="spacingAndGlyphs" text-anchor="start" >2/190x455GB</text>
<text x="372.9" y="73.1" font-size="8.2" class="nb" textLength="36.3" lengthAdjust="spacingAndGlyphs" text-anchor="start" >2/140x455GB</text>
<text x="464" y="72.9" font-size="8.2" class="nb" textLength="37.5" lengthAdjust="spacingAndGlyphs" text-anchor="start" >2/190x455GB</text>
<text x="594.9" y="72.9" font-size="8.2" class="nb" textLength="39.3" lengthAdjust="spacingAndGlyphs" text-anchor="start" >2/240x455GB</text>
<text x="242.2" y="173.4" font-size="8.2" class="nb" textLength="38.6" lengthAdjust="spacingAndGlyphs" transform="rotate(-90 242.2 173.4)" text-anchor="start" >2/240x455GB</text>
<text x="242.2" y="288.6" font-size="8.2" class="nb" textLength="37.7" lengthAdjust="spacingAndGlyphs" transform="rotate(-90 242.2 288.6)" text-anchor="start" >2/240x455GB</text>
<text x="261.5" y="341.2" font-size="8.2" class="nb" textLength="35.7" lengthAdjust="spacingAndGlyphs" text-anchor="start" >2/90x455GB</text>
<text x="333" y="341.2" font-size="8.2" class="nb" textLength="35.5" lengthAdjust="spacingAndGlyphs" text-anchor="start" >2/90x455GB</text>
<text x="386.4" y="408.6" font-size="8.2" class="nb" textLength="38.1" lengthAdjust="spacingAndGlyphs" transform="rotate(-90 386.4 408.6)" text-anchor="start" >2/210x455GB</text>
<text x="421.8" y="452.8" font-size="8.2" class="nb" textLength="36.5" lengthAdjust="spacingAndGlyphs" text-anchor="start" >2/110x455GB</text>
<text x="492.3" y="491" font-size="8.2" class="nb" textLength="34.6" lengthAdjust="spacingAndGlyphs" transform="rotate(-90 492.3 491)" text-anchor="start" >2/110x455GB</text>
<text x="707.9" y="160.2" font-size="8.2" class="nb" textLength="37" lengthAdjust="spacingAndGlyphs" transform="rotate(-90 707.9 160.2)" text-anchor="start" >2/140x455GB</text>
<text x="707.9" y="255.3" font-size="8.2" class="nb" textLength="35.9" lengthAdjust="spacingAndGlyphs" transform="rotate(-90 707.9 255.3)" text-anchor="start" >2/90x455GB</text>
<text x="707.3" y="339.1" font-size="8.2" class="nb" textLength="37.9" lengthAdjust="spacingAndGlyphs" transform="rotate(-90 707.3 339.1)" text-anchor="start" >2/90x455GB</text>
<text x="707.3" y="404.9" font-size="8.2" class="nb" textLength="35.7" lengthAdjust="spacingAndGlyphs" transform="rotate(-90 707.3 404.9)" text-anchor="start" >2/90x455GB</text>
<text x="707.3" y="456.2" font-size="8.2" class="nb" textLength="37.9" lengthAdjust="spacingAndGlyphs" transform="rotate(-90 707.3 456.2)" text-anchor="start" >2/90x455GB</text>
<text x="707" y="542.2" font-size="8.2" class="nb" textLength="37" lengthAdjust="spacingAndGlyphs" transform="rotate(-90 707 542.2)" text-anchor="start" >2/110x455GB</text>
<text x="707" y="605.6" font-size="8.2" class="nb" textLength="34.4" lengthAdjust="spacingAndGlyphs" transform="rotate(-90 707 605.6)" text-anchor="start" >2/90x455GB</text>
<text x="527.7" y="768.8" font-size="8.2" class="nb" textLength="35.2" lengthAdjust="spacingAndGlyphs" text-anchor="start" >2/90x455GB</text>
<text x="625.1" y="768.8" font-size="8.2" class="nb" textLength="35.2" lengthAdjust="spacingAndGlyphs" text-anchor="start" >2/90x455GB</text>
</svg></body></html>
